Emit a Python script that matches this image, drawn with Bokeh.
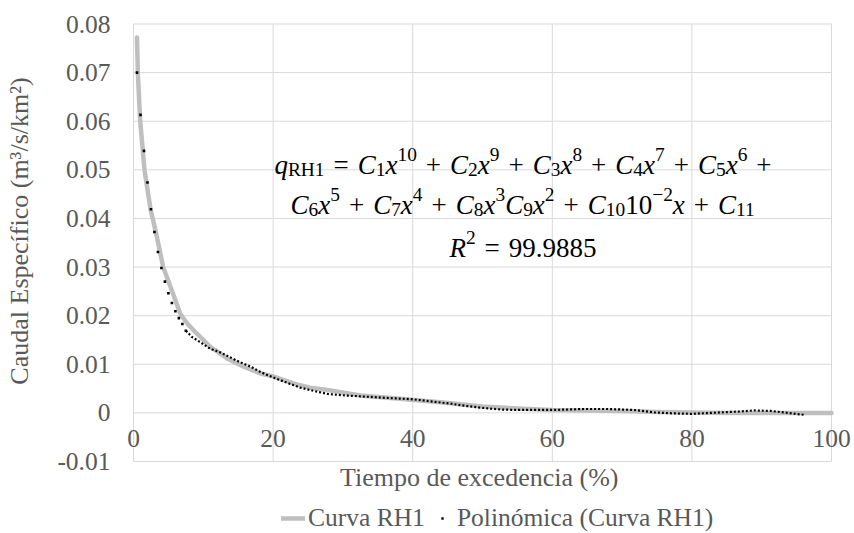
from bokeh.plotting import figure
from bokeh.models import (ColumnDataSource, FixedTicker, Legend, LegendItem, Range1d)
from bokeh.core.properties import value
from bokeh.embed import file_html
from bokeh.resources import INLINE

# ---------------- data ----------------
x_rh1 = [0.5, 0.62, 0.95, 1.58, 2.44, 3.25, 4.25, 6.0, 6.7, 7.7, 8.6, 11.0, 13.4,
         15.8, 18.2, 20.0, 23.0, 25.3, 27.8, 32.5, 37.3, 44.0, 50.0, 55.0, 60.0,
         65.0, 70.0, 75.0, 80.0, 85.0, 90.0, 100.0]
q_rh1 = [0.0772, 0.0700, 0.0602, 0.0499, 0.0419, 0.0369, 0.0300, 0.0232, 0.0204,
         0.0184, 0.0170, 0.0136, 0.0112, 0.0095, 0.0081, 0.0075, 0.0060, 0.0052,
         0.0047, 0.0036, 0.0030, 0.0022, 0.0013, 0.0009, 0.0006, 0.0005, 0.0004,
         0.0002, 0.0001, 0.0000, 0.0000, 0.0000]

x_poly_dots = [0.5, 1.0, 1.5, 2.0, 2.5, 3.0, 3.5, 4.0, 4.5, 5.0, 5.5, 6.0, 6.5, 7.0, 7.5]
q_poly_dots = [0.0700, 0.0613, 0.0539, 0.0474, 0.0419, 0.0372, 0.0331, 0.0298, 0.0270,
               0.0246, 0.0226, 0.0209, 0.0195, 0.0183, 0.0169]
x_poly_line = [7.5, 8.4, 9.6, 11.0, 12.5, 13.9, 15.3, 16.8, 18.2, 20.0, 22.0, 23.9,
               25.9, 27.8, 30.2, 32.5, 34.9, 37.3, 40.0, 43.0, 45.4, 47.8, 50.2, 52.6,
               55.0, 60.0, 64.5, 67.9, 71.7, 74.6, 77.3, 80.0, 84.1, 87.0, 88.9, 91.3,
               93.7, 96.1]
q_poly_line = [0.0169, 0.0156, 0.0145, 0.0132, 0.0124, 0.0114, 0.0104, 0.0095, 0.0084,
               0.0073, 0.0062, 0.0052, 0.0045, 0.0039, 0.0036, 0.0034, 0.0032, 0.0030,
               0.0028, 0.0023, 0.0019, 0.0014, 0.0010, 0.0007, 0.0006, 0.0006, 0.0008,
               0.0008, 0.0006, 0.0001, -0.0001, -0.0002, 0.0001, 0.0003, 0.0005, 0.0004,
               0.0000, -0.0004]

x_ticks = [0, 20, 40, 60, 80, 100]
x_tick_labels = ["0", "20", "40", "60", "80", "100"]
y_ticks = [-0.01, 0.0, 0.01, 0.02, 0.03, 0.04, 0.05, 0.06, 0.07, 0.08]
y_tick_labels = ["-0.01", "0", "0.01", "0.02", "0.03", "0.04", "0.05", "0.06", "0.07", "0.08"]

x_title = "Tiempo de excedencia  (%)"
y_title = "Caudal Específico (m³/s/km²)"
series_names = ["Curva RH1", "Polinómica (Curva RH1)"]
r2_value = "99.9885"

eq_line1 = [("q", "i"), ("RH1", "sub"), ("=", "op"),
            ("C", "i"), ("1", "sub"), ("x", "i"), ("10", "sup"), ("+", "op"),
            ("C", "i"), ("2", "sub"), ("x", "i"), ("9", "sup"), ("+", "op"),
            ("C", "i"), ("3", "sub"), ("x", "i"), ("8", "sup"), ("+", "op"),
            ("C", "i"), ("4", "sub"), ("x", "i"), ("7", "sup"), ("+", "op"),
            ("C", "i"), ("5", "sub"), ("x", "i"), ("6", "sup"), ("+", "opl")]
eq_line2 = [("C", "i"), ("6", "sub"), ("x", "i"), ("5", "sup"), ("+", "op"),
            ("C", "i"), ("7", "sub"), ("x", "i"), ("4", "sup"), ("+", "op"),
            ("C", "i"), ("8", "sub"), ("x", "i"), ("3", "sup"),
            ("C", "i"), ("9", "sub"), ("x", "i"), ("2", "sup"), ("+", "op"),
            ("C", "i"), ("10", "sub"), ("10", "n"), ("−2", "sup"), ("x", "i"), ("+", "op"),
            ("C", "i"), ("11", "sub")]
eq_line3 = [("R", "i"), ("2", "sup"), ("=", "op"), (r2_value, "n")]

# ---------------- styling ----------------
SERIF = "Liberation Serif"
GENERIC_SERIF = "serif"
GRAY_TXT = "#595959"
GRID = "#D9D9D9"

W, H = 854, 533
PX_L, PX_R, PX_T, PX_B = 133.0, 831.0, 23.5, 461.0      # plot-area edges in pixels
sx = (PX_R - PX_L) / 100.0
sy = (PX_B - PX_T) / 0.09
x_range = Range1d(-PX_L / sx, 100 + (W - PX_R) / sx)
y_range = Range1d(-0.01 - (H - PX_B) / sy, 0.08 + PX_T / sy)

p = figure(width=W, height=H, x_range=x_range, y_range=y_range,
           output_backend="svg", toolbar_location=None,
           min_border_left=0, min_border_right=0, min_border_top=0, min_border_bottom=0,
           outline_line_color=None, background_fill_color="white",
           border_fill_color="white")
p.grid.visible = False

# plot-area grid (vertical and horizontal lines, limited to the data area)
y0, y1 = y_ticks[0], y_ticks[-1]
x0, x1 = x_ticks[0], x_ticks[-1]
p.segment(x0=x_ticks, y0=[y0] * len(x_ticks), x1=x_ticks, y1=[y1] * len(x_ticks),
          line_color=GRID, line_width=1)
p.segment(x0=[x0] * len(y_ticks), y0=y_ticks, x1=[x1] * len(y_ticks), y1=y_ticks,
          line_color=GRID, line_width=1)

xa = p.xaxis[0]
xa.fixed_location = 0
xa.bounds = (x0, x1)
xa.ticker = FixedTicker(ticks=x_ticks)
xa.major_label_overrides = dict(zip(x_ticks, x_tick_labels))
xa.axis_label = x_title
xa.major_label_standoff = 17
xa.axis_label_standoff = 13

ya = p.yaxis[0]
ya.fixed_location = 0
ya.bounds = (-0.01, 0.092)          # centres the title like the reference
ya.ticker = FixedTicker(ticks=y_ticks)
ya.major_label_overrides = dict(zip(y_ticks, y_tick_labels))
ya.axis_label = y_title
ya.major_label_standoff = 23
ya.axis_label_standoff = 20

for ax in (xa, ya):
    ax.axis_line_color = None
    ax.major_tick_line_color = None
    ax.minor_tick_line_color = None
    ax.major_tick_out = 0
    ax.major_tick_in = 0
    ax.major_label_text_font = GENERIC_SERIF
    ax.major_label_text_font_size = "25.5px"
    ax.major_label_text_color = GRAY_TXT
    ax.axis_label_text_font_size = "26px"
    ax.axis_label_text_font_style = "normal"
    ax.axis_label_text_color = GRAY_TXT
xa.axis_label_text_font = SERIF
ya.axis_label_text_font = GENERIC_SERIF

r_gray = p.line(x_rh1, q_rh1, line_color="#BFBFBF", line_width=4.5, line_cap="round",
                line_join="round")
r_dots = p.scatter(x_poly_dots, q_poly_dots, marker="square", size=2.6,
                   fill_color="black", line_color=None)
p.line(x_poly_line, q_poly_line, line_color="black", line_width=2.2, line_dash="2 2")

# equation, assembled from pieces
BASE = 27.0
SCRIPT = 19.4
GAP = 9.0
W_REG = {"0": .5, "1": .5, "2": .5, "3": .5, "4": .5, "5": .5, "6": .5, "7": .5,
         "8": .5, "9": .5, "R": .667, "H": .722, "+": .564, "=": .564, "−": .564, ".": .25}
W_IT = {"C": .667, "x": .444, "q": .5, "R": .611}


def seg_width(text, kind):
    if kind == "i":
        return sum(W_IT[c] for c in text) * BASE
    if kind == "n":
        return sum(W_REG[c] for c in text) * BASE
    if kind in ("sub", "sup"):
        return sum(W_REG[c] for c in text) * SCRIPT
    if kind == "op":
        return W_REG[text] * BASE + 2 * GAP
    return W_REG[text] * BASE + GAP


rows = dict(x=[], y=[], text=[], xo=[], yo=[], style=[], size=[])
eq_center = 55.8
for line, base_y in ((eq_line1, 0.0510), (eq_line2, 0.0428), (eq_line3, 0.0340)):
    total = sum(seg_width(t, k) for t, k in line)
    cur = -total / 2.0
    for t, k in line:
        w = seg_width(t, k)
        xo = cur + (GAP if k in ("op", "opl") else 0)
        yo = 5 if k == "sub" else (-10 if k == "sup" else 0)
        rows["x"].append(eq_center)
        rows["y"].append(base_y)
        rows["text"].append(t)
        rows["xo"].append(xo)
        rows["yo"].append(yo)
        rows["style"].append("italic" if k == "i" else "normal")
        rows["size"].append("%gpx" % (SCRIPT if k in ("sub", "sup") else BASE))
        cur += w

p.text(x="x", y="y", text="text", x_offset="xo", y_offset="yo",
       text_font_style="style", text_font_size="size", text_font=value(GENERIC_SERIF),
       text_color="black", text_baseline="alphabetic", text_align="left",
       source=ColumnDataSource(rows))

legend = Legend(items=[LegendItem(label=series_names[0], renderers=[r_gray]),
                       LegendItem(label=series_names[1], renderers=[r_dots])],
                location=(281, 0), orientation="horizontal",
                glyph_width=24, glyph_height=6, label_standoff=3, spacing=5,
                padding=0, margin=0, border_line_color=None,
                background_fill_alpha=0,
                label_text_font=SERIF, label_text_font_size="25.5px",
                label_text_color=GRAY_TXT)
p.add_layout(legend)

open("out.html", "w").write(file_html(p, INLINE))
